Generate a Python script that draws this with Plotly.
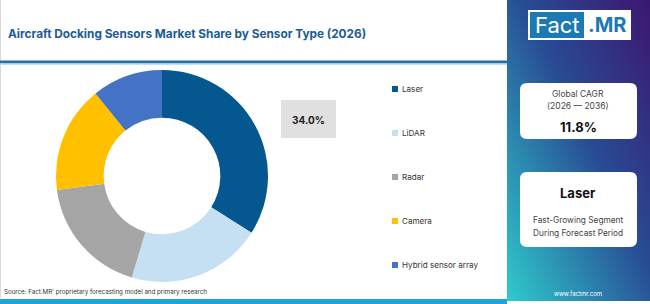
import base64
import plotly.graph_objects as go

# ---- data ----
categories = ["Laser", "LiDAR", "Radar", "Camera", "Hybrid sensor array"]
shares = [34.0, 20.6, 18.3, 16.3, 10.8]
colors = ["#04588f", "#c5e0f2", "#a5a5a5", "#ffc000", "#4472c4"]
title_text = "Aircraft Docking Sensors Market Share by Sensor Type (2026)"
highlight_label = "34.0%"
cagr_title = "Global CAGR"
cagr_period = "(2026 — 2036)"
cagr_value = "11.8%"
segment_name = "Laser"
segment_desc = ["Fast-Growing Segment", "During Forecast Period"]
source_text = "Source: Fact.MR' proprietary forecasting model and primary research"
site_text = "www.factmr.com"

W, H = 650, 304
FONT = "Inter, Open Sans, sans-serif"


def px(x):
    return x / W


def py(y):
    return 1 - y / H


def rrect(x0, y0, x1, y1, r):
    X0, X1 = px(x0), px(x1)
    Y0, Y1 = py(y0), py(y1)
    rx, ry = r / W, r / H
    return (f"M{X0+rx},{Y0} L{X1-rx},{Y0} Q{X1},{Y0} {X1},{Y0-ry} "
            f"L{X1},{Y1+ry} Q{X1},{Y1} {X1-rx},{Y1} L{X0+rx},{Y1} "
            f"Q{X0},{Y1} {X0},{Y1+ry} L{X0},{Y0-ry} Q{X0},{Y0} {X0+rx},{Y0} Z")


fig = go.Figure()

fig.add_trace(go.Pie(
    labels=categories, values=shares, sort=False, direction="clockwise",
    rotation=0, hole=0.55, marker=dict(colors=colors, line=dict(width=0)),
    textinfo="none", hoverinfo="label+percent", showlegend=False,
    domain=dict(x=[px(56), px(268)], y=[py(282), py(70)]),
))

shapes = []
images = []
ann = []

# right gradient panel
svg = ('<svg xmlns="http://www.w3.org/2000/svg" width="143" height="301" preserveAspectRatio="none">'
       '<defs><linearGradient id="g" x1="1" y1="0" x2="0" y2="1">'
       '<stop offset="0" stop-color="#3d1670"/><stop offset="0.45" stop-color="#284c94"/>'
       '<stop offset="1" stop-color="#2fcbcc"/></linearGradient></defs>'
       '<rect width="143" height="301" fill="url(#g)"/></svg>')
src = "data:image/svg+xml;base64," + base64.b64encode(svg.encode()).decode()
images.append(dict(source=src, xref="paper", yref="paper", x=px(507), y=py(0),
                   sizex=px(650) - px(507), sizey=301 / H, sizing="stretch",
                   xanchor="left", yanchor="top", layer="below"))

# left border and lines
shapes.append(dict(type="line", xref="paper", yref="paper", x0=px(0.5), x1=px(0.5),
                   y0=py(0), y1=py(298), line=dict(color="#d9d9d9", width=1)))
shapes.append(dict(type="rect", xref="paper", yref="paper", x0=0, x1=px(507),
                   y0=py(63.5), y1=py(60.5), fillcolor="#2371a8", line=dict(width=0)))
shapes.append(dict(type="rect", xref="paper", yref="paper", x0=0, x1=px(507),
                   y0=py(65), y1=py(63.5), fillcolor="#bfe3f5", line=dict(width=0)))
shapes.append(dict(type="rect", xref="paper", yref="paper", x0=0, x1=px(507),
                   y0=0, y1=py(299), fillcolor="#1ea4d8", line=dict(width=0)))

# logo
shapes.append(dict(type="rect", xref="paper", yref="paper", x0=px(528), x1=px(631),
                   y0=py(40), y1=py(10), fillcolor="white", line=dict(width=0)))
shapes.append(dict(type="rect", xref="paper", yref="paper", x0=px(530), x1=px(584),
                   y0=py(38), y1=py(12), fillcolor="#1b79b3", line=dict(width=0)))
ann.append(dict(x=px(557), y=py(25), text="Fact", font=dict(family=FONT, size=22, color="white")))
ann.append(dict(x=px(607), y=py(25), text="<b>.MR</b>", font=dict(family=FONT, size=20, color="#1b79b3")))

# info boxes
shapes.append(dict(type="path", xref="paper", yref="paper", path=rrect(520, 83, 637, 139, 7),
                   fillcolor="white", line=dict(width=0)))
shapes.append(dict(type="path", xref="paper", yref="paper", path=rrect(520, 172, 637, 247, 7),
                   fillcolor="white", line=dict(width=0)))
cx = 578
ann.append(dict(x=px(cx), y=py(94), text=cagr_title, font=dict(family=FONT, size=8.5, color="#444")))
ann.append(dict(x=px(cx), y=py(106), text=cagr_period, font=dict(family=FONT, size=8.5, color="#444")))
ann.append(dict(x=px(cx), y=py(127), text=f"<b>{cagr_value}</b>", font=dict(family=FONT, size=13, color="#111")))
ann.append(dict(x=px(cx), y=py(193), text=f"<b>{segment_name}</b>", font=dict(family=FONT, size=13, color="#111")))
ann.append(dict(x=px(cx), y=py(220), text=segment_desc[0], font=dict(family=FONT, size=8.3, color="#444")))
ann.append(dict(x=px(cx), y=py(233), text=segment_desc[1], font=dict(family=FONT, size=8.3, color="#444")))
ann.append(dict(x=px(cx), y=py(293), text=site_text, font=dict(family=FONT, size=6, color="white")))

# highlight box
shapes.append(dict(type="rect", xref="paper", yref="paper", x0=px(281), x1=px(336),
                   y0=py(138), y1=py(100), fillcolor="#e0e0e0", line=dict(width=0)))
ann.append(dict(x=px(308.5), y=py(120), text=f"<b>{highlight_label}</b>",
                font=dict(family=FONT, size=10, color="#222")))

# legend
leg_y = [89, 133, 177, 221, 265]
for lab, col, yy in zip(categories, colors, leg_y):
    shapes.append(dict(type="rect", xref="paper", yref="paper", x0=px(392), x1=px(398),
                       y0=py(yy + 3), y1=py(yy - 3), fillcolor=col, line=dict(width=0)))
    ann.append(dict(x=px(400), y=py(yy), text=lab, xanchor="left",
                    font=dict(family=FONT, size=8.1, color="#333")))

# title and source
ann.append(dict(x=px(6), y=py(34), text=f"<b>{title_text}</b>", xanchor="left",
                font=dict(family=FONT, size=11.8, color="#1c5b94")))
ann.append(dict(x=px(2), y=py(292), text=source_text, xanchor="left",
                font=dict(family=FONT, size=6.2, color="#333")))

for a in ann:
    a.setdefault("xanchor", "center")
    a.update(xref="paper", yref="paper", showarrow=False, yanchor="middle")

fig.update_layout(width=W, height=H, margin=dict(l=0, r=0, t=0, b=0),
                  paper_bgcolor="white", plot_bgcolor="white",
                  shapes=shapes, images=images, annotations=ann)
fig.write_html("out.html")
